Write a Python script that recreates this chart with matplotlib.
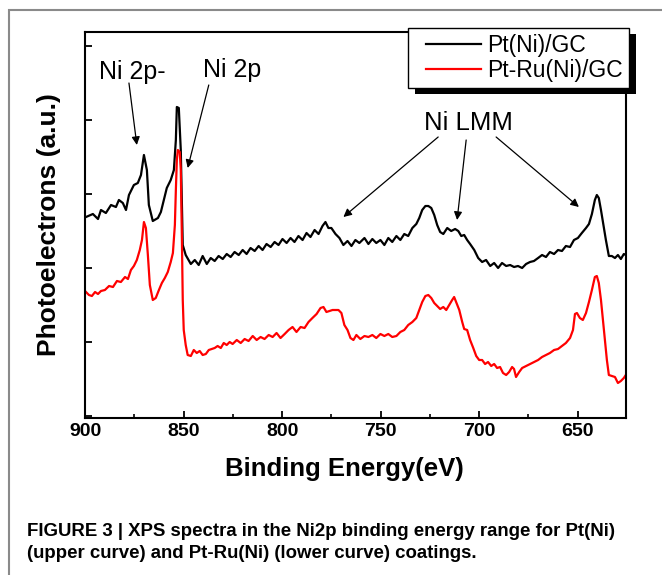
import matplotlib
matplotlib.use('Agg')
import matplotlib.pyplot as plt
from matplotlib.patches import Rectangle
from matplotlib.ticker import MultipleLocator
from matplotlib.legend_handler import HandlerLine2D
from matplotlib import font_manager
import numpy as np

# binding energy (eV) and counts (a.u.)
ni_energy = [899.5, 896.0, 893.4, 891.9, 889.4, 886.8, 884.3, 882.8, 880.8, 879.2,
             877.7, 875.2, 873.2, 871.6, 870.1, 868.6, 867.6, 865.6, 863.0, 861.5,
             860.0, 858.5, 856.5, 854.9, 853.9, 853.4, 852.4, 851.4, 850.4, 848.9,
             846.3, 844.3, 842.3, 840.3, 838.2, 836.2, 834.2, 832.2, 830.1, 828.1,
             826.1, 824.1, 822.0, 820.0, 818.0, 816.0, 813.9, 811.9, 809.9, 807.9,
             805.8, 803.8, 801.8, 799.8, 797.7, 795.7, 793.7, 791.7, 789.6, 787.6,
             785.6, 783.5, 781.5, 779.5, 778.0, 776.5, 775.0, 772.9, 770.9, 768.9,
             766.8, 764.8, 762.8, 760.8, 758.2, 756.2, 754.2, 752.2, 750.1, 748.1,
             746.1, 744.1, 742.0, 740.0, 738.0, 736.0, 733.9, 731.9, 730.4, 728.9,
             727.3, 725.8, 724.3, 722.8, 721.3, 719.8, 718.2, 716.2, 714.2, 712.2,
             710.6, 709.1, 707.6, 706.1, 704.6, 702.5, 700.5, 698.5, 696.5, 694.4,
             692.4, 690.4, 688.4, 686.3, 684.3, 682.3, 680.3, 678.2, 676.2, 674.2,
             672.2, 670.1, 668.1, 666.1, 664.1, 662.0, 660.0, 658.0, 656.0, 653.9,
             651.9, 649.9, 647.9, 645.8, 644.3, 642.8, 641.3, 640.3, 639.3, 638.2,
             637.2, 635.7, 634.2, 632.7, 631.1, 629.6, 628.1, 626.6, 625.6]
ni_counts = [199, 202, 197, 206, 203, 211, 209, 216, 213, 206,
             221, 231, 233, 241, 261, 246, 211, 195, 198, 204,
             216, 228, 236, 246, 276, 309, 308, 266, 171, 161,
             152, 156, 151, 160, 152, 158, 155, 160, 157, 162,
             159, 164, 161, 166, 162, 168, 165, 170, 166, 172,
             169, 174, 171, 177, 173, 178, 174, 180, 176, 183,
             179, 186, 182, 190, 194, 188, 188, 182, 178, 171,
             175, 170, 176, 173, 178, 172, 177, 173, 176, 171,
             178, 174, 180, 176, 182, 180, 188, 192, 198, 206,
             210, 210, 208, 201, 191, 184, 182, 188, 185, 187,
             185, 180, 181, 176, 172, 166, 158, 154, 156, 150,
             153, 148, 153, 150, 151, 149, 150, 148, 152, 154,
             155, 158, 161, 159, 164, 162, 166, 165, 170, 169,
             176, 178, 183, 188, 192, 202, 216, 221, 218, 206,
             194, 176, 160, 160, 158, 161, 157, 162, 161]

ptru_energy = [899.5, 898.0, 896.5, 894.9, 893.4, 891.9, 889.9, 887.8, 885.8, 883.8,
               881.8, 879.7, 878.2, 876.7, 875.2, 873.7, 872.2, 871.1, 870.1, 869.1,
               868.1, 867.1, 865.6, 864.1, 862.5, 861.0, 859.5, 858.0, 856.5, 855.4,
               854.4, 853.9, 853.4, 852.9, 851.9, 851.4, 850.9, 850.4, 849.9, 848.9,
               847.9, 846.3, 844.8, 843.3, 841.8, 840.3, 838.7, 837.2, 835.7, 834.2,
               832.7, 831.1, 829.6, 828.1, 826.6, 825.1, 823.0, 821.0, 819.0, 817.0,
               814.9, 812.9, 810.9, 808.9, 806.8, 804.8, 802.8, 800.8, 798.7, 796.7,
               794.7, 792.7, 790.6, 788.6, 786.6, 784.6, 782.5, 780.5, 779.0, 777.5,
               776.0, 774.4, 772.9, 771.4, 769.9, 768.4, 766.8, 765.3, 763.8, 762.3,
               760.3, 758.2, 756.2, 754.2, 752.2, 750.1, 748.1, 746.1, 744.1, 742.0,
               740.0, 738.0, 736.0, 733.9, 731.9, 730.4, 728.9, 727.3, 725.8, 724.3,
               722.8, 721.3, 719.8, 718.2, 716.7, 715.2, 713.7, 712.7, 711.7, 710.1,
               708.6, 707.6, 706.1, 704.6, 703.0, 701.5, 700.0, 698.5, 697.0, 695.5,
               693.9, 692.4, 690.9, 689.4, 687.9, 686.3, 684.8, 683.3, 682.3, 681.3,
               679.7, 678.2, 676.2, 674.2, 672.2, 670.1, 668.1, 666.1, 664.1, 662.0,
               660.0, 658.0, 656.0, 653.9, 652.4, 651.4, 650.4, 648.9, 647.4, 645.8,
               644.3, 642.8, 641.3, 640.3, 639.3, 638.2, 637.2, 636.2, 635.2, 634.2,
               632.7, 631.1, 629.6, 628.1, 626.6, 625.6]
ptru_counts = [124, 121, 120, 124, 122, 125, 126, 130, 129, 135,
               134, 139, 137, 146, 150, 156, 166, 176, 194, 188,
               161, 131, 116, 118, 126, 133, 138, 144, 154, 163,
               191, 226, 256, 266, 264, 246, 186, 116, 86, 71,
               61, 60, 66, 63, 65, 61, 62, 66, 67, 68,
               70, 68, 73, 71, 74, 72, 76, 73, 77, 75,
               80, 76, 79, 77, 81, 79, 83, 78, 82, 86,
               89, 84, 89, 88, 94, 98, 102, 108, 109, 104,
               105, 106, 106, 106, 103, 91, 86, 78, 76, 81,
               77, 80, 79, 81, 78, 82, 80, 82, 79, 80,
               84, 86, 91, 94, 98, 106, 114, 120, 121, 118,
               113, 110, 107, 109, 106, 111, 116, 119, 114, 106,
               94, 87, 86, 76, 68, 60, 56, 56, 52, 54,
               50, 52, 48, 49, 43, 41, 44, 49, 47, 39,
               44, 48, 50, 52, 54, 56, 59, 61, 63, 66,
               67, 70, 73, 78, 86, 102, 103, 98, 96, 103,
               114, 126, 139, 140, 133, 116, 96, 76, 56, 41,
               40, 39, 33, 35, 38, 41]

series_labels = ['Pt(Ni)/GC', 'Pt-Ru(Ni)/GC']
xticks = [900, 850, 800, 750, 700, 650]


class ShortLine(HandlerLine2D):
    # legend line starts a bit in from the left edge, like the original
    def create_artists(self, legend, orig_handle, xdescent, ydescent,
                       width, height, fontsize, trans):
        gap = 0.5 * fontsize
        return super().create_artists(legend, orig_handle, xdescent - gap, ydescent,
                                      width - gap, height, fontsize, trans)


plt.rcParams['font.family'] = ['Liberation Sans', 'DejaVu Sans']

fig = plt.figure(figsize=(6.62, 5.75), dpi=100)
ax = fig.add_axes([85/662, 1-418/575, 541/662, 386/575])

# grey frame around the panel
fig.patches.append(Rectangle((9/662, -0.1), 1.2, 1.1 - 10/575, transform=fig.transFigure,
                             fill=False, edgecolor='#8a8a8a', linewidth=1.5))

l1, = ax.plot(ni_energy, ni_counts, color='black', lw=1.6, label=series_labels[0])
l2, = ax.plot(ptru_energy, ptru_counts, color='#ff0000', lw=1.6, label=series_labels[1])

ax.set_xlim(900, 625.5)
ax.set_ylim(-2, 384)
ax.set_xticks(xticks)
ax.xaxis.set_minor_locator(MultipleLocator(25))
ax.yaxis.set_major_locator(MultipleLocator(74))
ax.set_yticklabels([])
ax.tick_params(direction='in', which='major', length=5, width=1.3, labelsize=14)
ax.tick_params(direction='in', which='minor', length=3, width=1.2)
for lab in ax.get_xticklabels():
    lab.set_fontweight('bold')
for s in ax.spines.values():
    s.set_linewidth(1.5)

ax.set_xlabel('Binding Energy(eV)', fontsize=18.5, fontweight='bold', labelpad=8)
ax.xaxis.set_label_coords(0.48, -0.1)
ax.xaxis.label.set_va('top')
ax.set_ylabel('Photoelectrons (a.u.)', fontsize=19, fontweight='bold', labelpad=14)

arr = dict(arrowstyle='-|>', color='black', lw=0.9, mutation_scale=12, shrinkA=0, shrinkB=0)
ax.text(876.2, 344, 'Ni 2p-', fontsize=18, ha='center', va='center')
ax.text(825.6, 346, 'Ni 2p', fontsize=18, ha='center', va='center')
ax.text(705.6, 293, 'Ni LMM', fontsize=18.5, ha='center', va='center')
ax.annotate('', xy=(873.7, 271), xytext=(877.7, 333), arrowprops=arr)
ax.annotate('', xy=(847.9, 248), xytext=(837.2, 331), arrowprops=arr)
ax.annotate('', xy=(768.9, 199), xytext=(720.8, 279), arrowprops=arr)
ax.annotate('', xy=(711.2, 196), xytext=(706.6, 276), arrowprops=arr)
ax.annotate('', xy=(649.4, 209), xytext=(691.4, 279), arrowprops=arr)

leg = ax.legend(loc='upper right', bbox_to_anchor=(629/662, 1-28/575),
                bbox_transform=fig.transFigure, fontsize=16.5, frameon=True,
                fancybox=False, edgecolor='black', framealpha=1,
                handlelength=2.9, handletextpad=0.25, borderaxespad=0,
                borderpad=0.28, labelspacing=0.05,
                handler_map={l1: ShortLine(), l2: ShortLine()})
leg.get_frame().set_linewidth(1.0)
leg.set_zorder(6)

fig.canvas.draw()
bb = leg.get_window_extent()
ax.add_patch(Rectangle((bb.x0 + 7, bb.y0 - 6), bb.width, bb.height, transform=None,
                       facecolor='black', edgecolor='none', zorder=5.5, clip_on=False))

# caption
cap_font = 'Liberation Sans Narrow'
names = {f.name for f in font_manager.fontManager.ttflist}
if cap_font not in names:
    cap_font = 'Liberation Sans'
fig.text(27/662, 1-532/575,
         'FIGURE 3 | XPS spectra in the Ni2p binding energy range for Pt(Ni)',
         fontsize=13.4, fontweight='bold', family=cap_font, va='center')
fig.text(27/662, 1-554/575,
         '(upper curve) and Pt-Ru(Ni) (lower curve) coatings.',
         fontsize=13.4, fontweight='bold', family=cap_font, va='center')

fig.savefig('out.png', dpi=100)
